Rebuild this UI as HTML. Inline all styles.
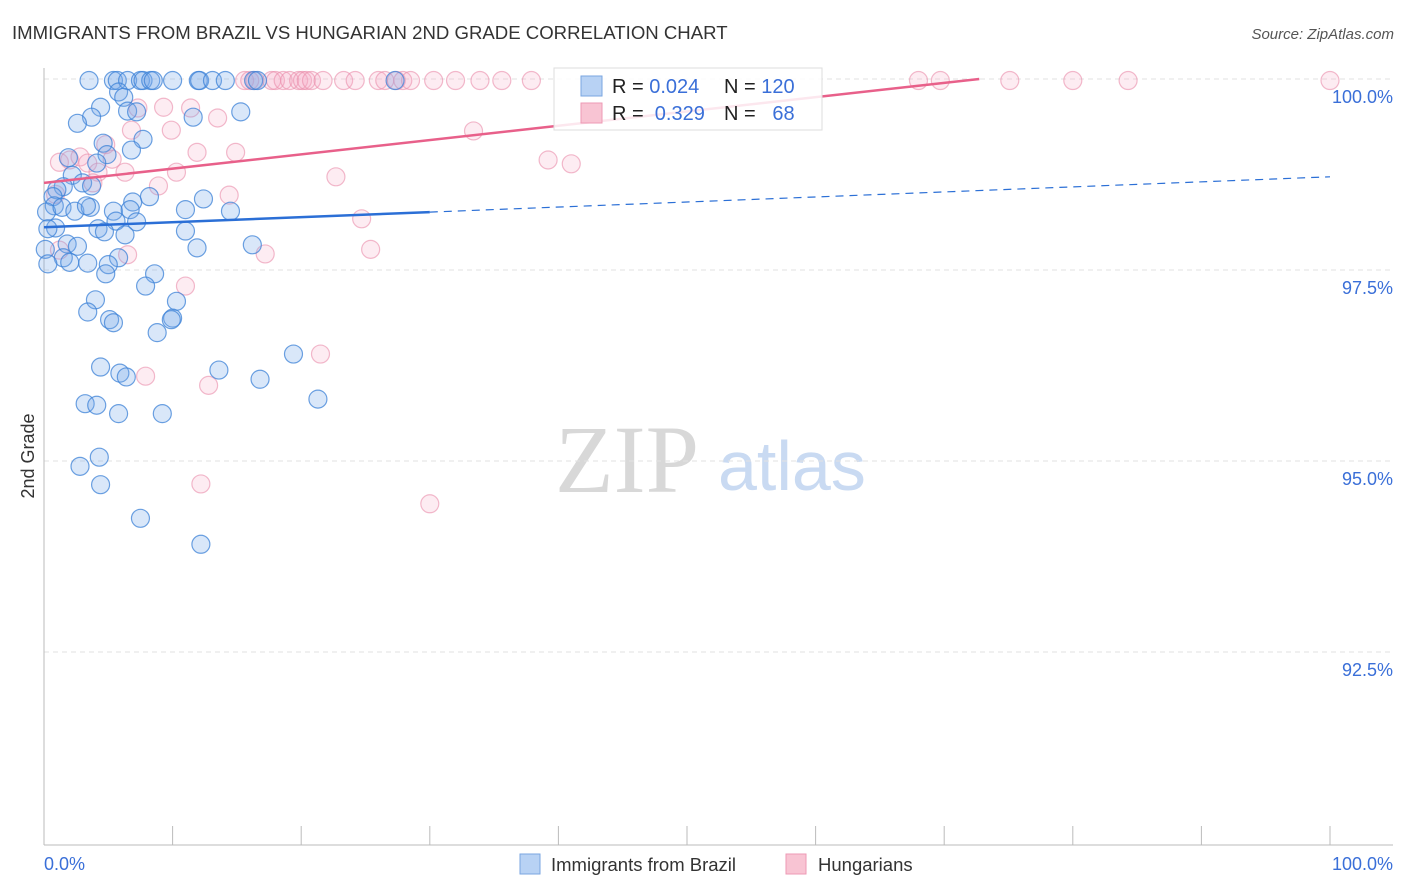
<!DOCTYPE html>
<html><head><meta charset="utf-8"><style>
body{margin:0;background:#fff;font-family:"Liberation Sans",sans-serif}
svg{display:block}
</style></head><body>
<svg id="c" width="1406" height="892">
<text x="12" y="39" font-size="18.6" fill="#333">IMMIGRANTS FROM BRAZIL VS HUNGARIAN 2ND GRADE CORRELATION CHART</text>
<text x="1394" y="39" font-size="15" fill="#555" font-style="italic" text-anchor="end">Source: ZipAtlas.com</text>
<g>
<text x="555" y="492" font-family="Liberation Serif,serif" font-size="96" fill="#d8d8d8">ZIP</text>
<text x="718" y="490" font-size="70" fill="#c9daf2">atlas</text>
</g>
<g id="grid"></g>
<g id="axes"></g>
<g id="pts"></g>
<g id="trend"></g>
<g>
<rect x="554" y="68" width="268" height="62" fill="rgba(255,255,255,0.85)" stroke="#ddd"/>
<rect x="581" y="76" width="21" height="20" fill="#b8d2f4" stroke="#7aa6e0"/>
<rect x="581" y="103" width="21" height="20" fill="#f8c4d3" stroke="#ee9ab4"/>
<text x="612" y="93" font-size="20" fill="#222">R = <tspan fill="#3a6fd8">0.024</tspan></text>
<text x="724" y="93" font-size="20" fill="#222">N = <tspan fill="#3a6fd8">120</tspan></text>
<text x="612" y="120" font-size="20" fill="#222" xml:space="preserve">R = <tspan fill="#3a6fd8"> 0.329</tspan></text>
<text x="724" y="120" font-size="20" fill="#222" xml:space="preserve">N =  <tspan fill="#3a6fd8"> 68</tspan></text>
</g>
<text transform="translate(34,456) rotate(-90)" font-size="18" fill="#333" text-anchor="middle">2nd Grade</text>
<text x="44" y="870" font-size="18" fill="#3a6fd8">0.0%</text>
<text x="1393" y="870" font-size="18" fill="#3a6fd8" text-anchor="end">100.0%</text>
<g>
<rect x="520" y="854" width="20" height="20" fill="#b8d2f4" stroke="#7aa6e0"/>
<text x="551" y="871" font-size="18.5" fill="#333">Immigrants from Brazil</text>
<rect x="786" y="854" width="20" height="20" fill="#f8c4d3" stroke="#ee9ab4"/>
<text x="818" y="871" font-size="18.5" fill="#333">Hungarians</text>
</g>
</svg>
<script>
const yTicks=[100,97.5,95,92.5];
const yTickLabels=["100.0%","97.5%","95.0%","92.5%"];
const xTicks=[0,10,20,30,40,50,60,70,80,90,100];
const blueTop=[3.5,5.4,5.7,6.5,7.5,7.7,8.3,8.5,10.0,12.0,12.1,13.1,14.1,16.3,16.6,27.3];
const blueX=[5.8,6.2,4.4,6.5,7.2,15.3,11.6,3.7,2.6,7.7,4.6,6.8,1.9,4.9,4.1,2.2,3.0,3.7,1.5,1.0,0.7,8.2,12.4,6.9,0.8,0.2,1.4,2.4,3.6,5.4,6.7,11.0,14.5,3.3,7.2,5.6,4.2,0.9,0.3,11.0,4.7,6.3,1.8,2.6,16.2,11.9,0.1,1.5,2.0,3.4,5.8,5.0,0.3,8.6,4.8,7.9,4.0,10.3,3.4,5.1,5.4,10.0,9.9,8.8,19.4,4.4,13.6,5.9,6.4,16.8,21.3,3.2,4.1,5.8,9.2,4.3,2.8,4.4,7.5,12.2];
const blueY=[99.83,99.76,99.63,99.58,99.57,99.57,99.50,99.50,99.42,99.21,99.16,99.07,98.97,99.01,98.90,98.74,98.64,98.60,98.59,98.55,98.46,98.46,98.43,98.39,98.34,98.26,98.32,98.27,98.32,98.27,98.29,98.29,98.27,98.34,98.13,98.14,98.04,98.05,98.04,98.01,98.00,97.96,97.84,97.81,97.83,97.79,97.77,97.66,97.60,97.59,97.66,97.57,97.58,97.45,97.45,97.29,97.11,97.09,96.95,96.85,96.81,96.87,96.85,96.68,96.40,96.23,96.19,96.15,96.10,96.07,95.81,95.75,95.73,95.62,95.62,95.05,94.93,94.69,94.25,93.91];
const pinkTop=[15.6,16.0,16.4,17.7,18.0,18.6,19.1,19.8,20.1,20.4,20.8,21.7,23.3,24.2,26.0,26.5,27.4,27.9,28.5,30.3,32.0,33.9,35.6,37.9,68.0,69.7,75.1,80.0,84.3,100];
const pinkX=[7.3,9.3,11.4,13.5,9.9,6.8,4.8,5.3,1.2,2.0,2.8,3.4,4.2,11.9,14.9,39.2,41.0,33.4,10.3,6.3,3.8,8.9,22.7,14.4,0.9,24.7,1.2,6.5,17.2,25.4,11.0,7.9,21.5,12.8,12.2,30.0];
const pinkY=[99.62,99.63,99.62,99.49,99.33,99.33,99.14,98.95,98.91,98.94,98.98,98.90,98.78,99.04,99.04,98.94,98.89,99.32,98.78,98.78,98.64,98.60,98.72,98.48,98.49,98.17,97.76,97.70,97.71,97.77,97.29,96.11,96.40,95.99,94.70,94.44];
const blueTrend=[98.06,98.72];
const pinkTrend=[98.64,100.51];
const TOPV=99.98;

const NS="http://www.w3.org/2000/svg";
const X=v=>44+v*12.86;
const Y=v=>79+(100-v)*76.4;
function mk(tag,attrs,parent){const e=document.createElementNS(NS,tag);for(const k in attrs)e.setAttribute(k,attrs[k]);parent.appendChild(e);return e;}
const grid=document.getElementById('grid'),axes=document.getElementById('axes'),pts=document.getElementById('pts'),tr=document.getElementById('trend');
yTicks.forEach((t,i)=>{
 const l=mk('line',{x1:44,x2:1393,y1:Y(t),y2:Y(t),stroke:'#e2e2e2','stroke-dasharray':'5,4'},grid);
 
 
 const tx=mk('text',{x:1393,y:Y(t)+24,'font-size':18,fill:'#3a6fd8','text-anchor':'end'},grid);
 tx.textContent=yTickLabels[i];
 
 
});
let a=mk('line',{x1:44,x2:44,y1:68,y2:845,stroke:'#bbb'},axes);


a=mk('line',{x1:44,x2:1393,y1:845,y2:845,stroke:'#bbb'},axes);


xTicks.forEach(t=>{
 const l=mk('line',{x1:X(t),x2:X(t),y1:826,y2:845,stroke:'#bbb'},axes);
 
 
});
function dot(x,y,blue){
 const c=mk('circle',{cx:X(x),cy:Y(y),r:9,fill:blue?'rgba(120,170,232,0.28)':'rgba(246,170,195,0.22)',stroke:blue?'rgba(60,130,215,0.75)':'rgba(234,140,170,0.6)','stroke-width':1.2},pts);
 
 
}
pinkTop.forEach(x=>dot(x,TOPV,false));
pinkX.forEach((x,i)=>dot(x,pinkY[i],false));
blueTop.forEach(x=>dot(x,TOPV,true));
blueX.forEach((x,i)=>dot(x,blueY[i],true));
const bAt=x=>blueTrend[0]+(blueTrend[1]-blueTrend[0])*x/100;
let l=mk('line',{x1:X(0),y1:Y(bAt(0)),x2:X(30),y2:Y(bAt(30)),stroke:'#2b6fd6','stroke-width':2.5},tr);


l=mk('line',{x1:X(30),y1:Y(bAt(30)),x2:X(100),y2:Y(bAt(100)),stroke:'#2b6fd6','stroke-width':1.2,'stroke-dasharray':'8,6'},tr);


const pAt=x=>pinkTrend[0]+(pinkTrend[1]-pinkTrend[0])*x/100;
const xEnd=Math.min(100,(100-pinkTrend[0])/(pinkTrend[1]-pinkTrend[0])*100);
l=mk('line',{x1:X(0),y1:Y(pAt(0)),x2:X(xEnd),y2:Y(pAt(xEnd)),stroke:'#e8608a','stroke-width':2.5},tr);


</script>
</body></html>
